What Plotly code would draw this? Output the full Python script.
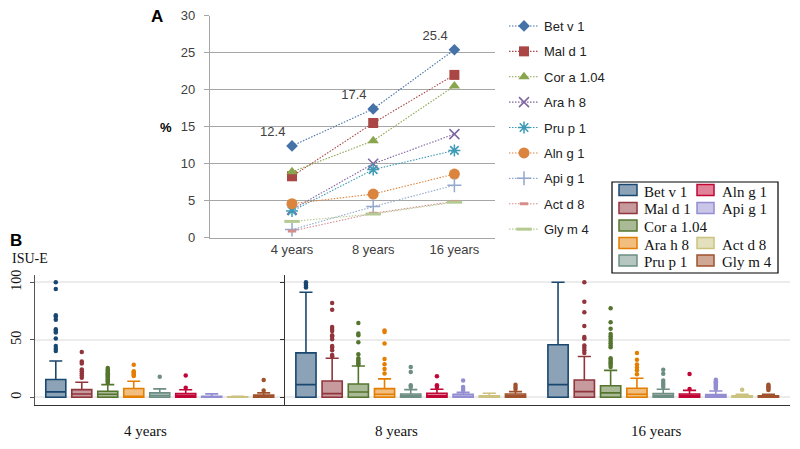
import plotly.graph_objects as go

W, H = 800, 449

# ---------------- data ----------------
years = ["4 years", "8 years", "16 years"]
allergens = ["Bet v 1", "Mal d 1", "Cor a 1.04", "Ara h 8", "Pru p 1",
             "Aln g 1", "Api g 1", "Act d 8", "Gly m 4"]

# Panel A: % sensitised
pct_bet = [12.4, 17.4, 25.4]
pct_mal = [8.3, 15.5, 22.0]
pct_cor = [8.9, 13.1, 20.5]
pct_ara = [3.8, 10.0, 14.0]
pct_pru = [3.6, 9.2, 11.8]
pct_aln = [4.6, 5.9, 8.6]
pct_api = [1.1, 4.2, 7.1]
pct_act = [0.9, 3.3, 4.9]
pct_gly = [2.2, 3.2, 4.8]
labelled_values = pct_bet

# Panel B: ISU-E box statistics (allergen order as above)
q1_4y = [0, 0, 0, 0, 0, 0, 0, 0, 0]
med_4y = [4.7, 2.9, 2.6, 0.9, 1.5, 1.2, 0.3, 0.1, 0.6]
q3_4y = [15.5, 6.7, 5.2, 7.6, 3.8, 3.2, 0.9, 0.4, 2.0]
whi_4y = [31.5, 13.1, 11.0, 14.0, 7.3, 6.5, 3.0, 0.8, 3.8]
out_4y = [
    [100, 94.2, 71.4, 70.0, 67.3, 59.2, 57.7, 56.3, 51, 44.6, 42.3, 40.2],
    [39.4, 31.2, 29.4, 24.2, 22.7, 20.7, 19.0, 16.9],
    [25.4, 24, 23, 22, 21, 20, 19, 18, 17, 16, 15, 14, 12.5],
    [28.3, 22.7, 21.5, 20.5, 19.5, 18.5],
    [17.8],
    [19.0, 8.2],
    [],
    [],
    [15.0, 6.0],
]

q1_8y = [0, 0, 0, 0, 0, 0, 0, 0, 0]
med_8y = [11.0, 3.2, 4.6, 2.6, 1.2, 1.4, 0.9, 0.5, 1.2]
q3_8y = [38.6, 14.2, 11.6, 7.5, 2.9, 3.5, 2.6, 1.4, 2.9]
whi_8y = [91.3, 34.0, 27.2, 16.0, 6.7, 7.0, 4.3, 3.5, 4.9]
out_8y = [
    [100, 98.5, 97, 95.5],
    [82, 76, 61, 59.4, 57.7, 54, 52.8, 50.4, 44.6, 43.2, 40.9, 36.8, 35.6],
    [64.6, 55.4, 54, 47.8, 37.4, 34, 32.5, 31, 29.5, 28.2],
    [58, 56.8, 46.7, 33.3, 28.7, 24.6, 20.6],
    [26.4, 22, 10.4, 9],
    [18.3, 10.4, 9],
    [14.5, 9, 7.5, 6],
    [],
    [11, 9, 7.3],
]

q1_16y = [0, 0, 0, 0, 0, 0, 0, 0, 0]
med_16y = [11.0, 4.9, 3.8, 2.6, 1.4, 1.2, 0.9, 0.5, 0.5]
q3_16y = [45.7, 15.0, 10.0, 7.8, 3.2, 2.9, 2.3, 1.2, 1.2]
whi_16y = [100, 35.5, 23.4, 16.5, 7.0, 6.0, 5.5, 2.6, 2.6]
out_16y = [
    [],
    [100, 83, 74, 62, 52.3, 50.9, 45, 43, 40.8, 38.4],
    [77.5, 65.3, 59.5, 55, 53, 51, 49, 47, 45, 43.6, 34, 32.5, 31, 29.5, 28, 26.3],
    [38.4, 32.7, 28.6, 26, 23.4, 20],
    [24, 20.5, 14.7, 12.7, 10.9, 9],
    [20.2, 7.2],
    [15.3, 14, 13, 12, 11, 10, 9, 8, 7.5],
    [6.6],
    [11, 9.8, 8.7, 7.5, 6.4],
]

# ---------------- styles ----------------
line_colors = ["#4572A7", "#AA4643", "#89A54E", "#7E64A0", "#3D9AB5",
               "#DB843D", "#92A8CD", "#D48E8C", "#B5CA92"]
line_symbols = ["diamond", "square", "triangle-up", "x-thin", "asterisk",
                "circle", "cross-thin", "line-ew", "line-ew"]
line_msize = [9, 10, 10, 10, 10, 11, 10, 6, 11]
pct_series = [pct_bet, pct_mal, pct_cor, pct_ara, pct_pru,
              pct_aln, pct_api, pct_act, pct_gly]

box_colors = ["#1a476f", "#90353b", "#55752f", "#e37e00", "#6e8e84",
              "#c10534", "#938dd2", "#cac27e", "#a0522d"]


def rgba(hexc, a):
    h = hexc.lstrip("#")
    return "rgba(%d,%d,%d,%.2f)" % (int(h[0:2], 16), int(h[2:4], 16), int(h[4:6], 16), a)


def fx(px):
    return px / W


def fy(py):
    return 1 - py / H


fig = go.Figure()

# ---------------- Panel A ----------------
SANS = "Liberation Sans, Arial, sans-serif"
SERIF = "Liberation Serif, Times New Roman, serif"
for i, name in enumerate(allergens):
    thin = line_symbols[i] in ("x-thin", "asterisk", "cross-thin", "line-ew")
    lw = 1.5
    if line_symbols[i] == "line-ew":
        lw = 3
    tr = dict(
        x=years, y=pct_series[i], name=name, xaxis="x", yaxis="y",
        mode="lines+markers", legend="legend", legendgroup=name,
        line=dict(color=line_colors[i], width=1.1, dash="1.5px,1.5px"),
        marker=dict(symbol=line_symbols[i], size=line_msize[i], color=line_colors[i],
                    line=dict(color=line_colors[i], width=lw if thin else 0)),
        cliponaxis=False,
    )
    if i == 0:
        tr["mode"] = "lines+markers+text"
        tr["text"] = ["%.1f" % v for v in labelled_values]
        tr["textposition"] = "top left"
        tr["textfont"] = dict(family=SANS, size=13, color="#404040")
    fig.add_trace(go.Scatter(**tr))

# ---------------- Panel B ----------------
stats = [(q1_4y, med_4y, q3_4y, whi_4y, out_4y),
         (q1_8y, med_8y, q3_8y, whi_8y, out_8y),
         (q1_16y, med_16y, q3_16y, whi_16y, out_16y)]
for k, (q1s, meds, q3s, whis, outs) in enumerate(stats):
    xa, ya = "x%d" % (k + 2), "y%d" % (k + 2)
    for i, name in enumerate(allergens):
        c = box_colors[i]
        fig.add_trace(go.Box(
            x=[name], q1=[q1s[i]], median=[meds[i]], q3=[q3s[i]],
            lowerfence=[q1s[i]], upperfence=[whis[i]],
            width=0.77, whiskerwidth=0.65, boxpoints=False,
            fillcolor=rgba(c, 0.5), line=dict(color=c, width=1.6),
            xaxis=xa, yaxis=ya, showlegend=False, hoverinfo="skip", name=name,
        ))
    for i, name in enumerate(allergens):
        if outs[i]:
            fig.add_trace(go.Scatter(
                x=[name] * len(outs[i]), y=outs[i], mode="markers",
                marker=dict(color=box_colors[i], size=4.5),
                xaxis=xa, yaxis=ya, showlegend=False, hoverinfo="skip",
                cliponaxis=False,
            ))

# ---------------- layout ----------------
grid_a = "#a6a6a6"
layout = dict(
    width=W, height=H, margin=dict(l=0, r=0, t=0, b=0, autoexpand=False),
    paper_bgcolor="white", plot_bgcolor="white", showlegend=True,
    xaxis=dict(domain=[fx(210), fx(495)], type="category", range=[-1.01, 2.5],
               showline=True, linecolor=grid_a, linewidth=1.3, ticks="",
               tickfont=dict(family=SANS, size=13, color="#404040"),
               showgrid=False, fixedrange=True, automargin=False),
    yaxis=dict(domain=[fy(237.7), fy(15.7)], range=[0, 30], tickvals=[0, 5, 10, 15, 20, 25, 30],
               showgrid=True, gridcolor=grid_a, gridwidth=1.3, zeroline=False,
               showline=True, linecolor=grid_a, linewidth=1.3,
               ticks="outside", ticklen=5, tickcolor=grid_a, tickwidth=1.3,
               ticklabelstandoff=6,
               tickfont=dict(family=SANS, size=13, color="#404040"), fixedrange=True,
               automargin=False),
    legend=dict(x=fx(504), xanchor="left", y=fy(11), yanchor="top",
                font=dict(family=SANS, size=13, color="#222222"),
                tracegroupgap=5.5, bgcolor="rgba(0,0,0,0)", itemwidth=30),
)

panel_x = [(35, 285), (285, 537), (537, 790)]
for k in range(3):
    xn = "xaxis%d" % (k + 2)
    yn = "yaxis%d" % (k + 2)
    layout[xn] = dict(domain=[fx(panel_x[k][0]), fx(panel_x[k][1])], anchor="y%d" % (k + 2),
                      type="category", categoryorder="array", categoryarray=allergens,
                      range=[-0.8, 8.82], showline=True, linecolor="#333333", linewidth=1.3,
                      ticks="", showticklabels=False, showgrid=False, fixedrange=True,
                      automargin=False)
    ya = dict(domain=[fy(405), fy(275)], anchor="x%d" % (k + 2), range=[-6.7, 106.3],
              tickvals=[0, 50, 100], showgrid=True, gridcolor="#ececec", gridwidth=1.5,
              zeroline=False, fixedrange=True, automargin=False)
    if k == 0:
        ya.update(showline=True, linecolor="#555555", linewidth=1.3, ticks="outside",
                  ticklen=4, tickcolor="#555555", tickangle=-90, ticklabelstandoff=3,
                  tickfont=dict(family=SERIF, size=14, color="#111111"))
    elif k == 1:
        ya.update(showline=True, linecolor="#333333", linewidth=1.3, ticks="outside",
                  ticklen=4, tickcolor="#333333", showticklabels=False)
    else:
        ya.update(showline=False, ticks="", showticklabels=False)
    layout[yn] = ya

fig.update_layout(**layout)

# ---------------- annotations ----------------
ann = [
    dict(text="<b>A</b>", x=fx(157), y=fy(17), font=dict(family=SANS, size=17, color="black")),
    dict(text="<b>%</b>", x=fx(166), y=fy(127), font=dict(family=SANS, size=13, color="black")),
    dict(text="<b>B</b>", x=fx(16), y=fy(240), font=dict(family=SANS, size=17, color="black")),
    dict(text="ISU-E", x=fx(30), y=fy(258), font=dict(family=SERIF, size=14, color="#111111")),
]
for yr, cx in zip(years, [145, 396, 656]):
    ann.append(dict(text=yr, x=fx(cx), y=fy(431), font=dict(family=SERIF, size=15, color="#111111")))

# manual legend for panel B (2 columns, Stata-like)
legend_cols = [["Bet v 1", "Mal d 1", "Cor a 1.04", "Ara h 8", "Pru p 1"],
               ["Aln g 1", "Api g 1", None, "Act d 8", "Gly m 4"]]
row_y = [190, 208, 225.5, 243, 260.5]
col_sq = [(619, 637), (697, 714)]
col_tx = [642, 720]
shapes = [dict(type="rect", xref="paper", yref="paper", x0=fx(612), x1=fx(778),
               y0=fy(273), y1=fy(182), line=dict(color="black", width=1.2),
               fillcolor="white", layer="above")]
for c, col in enumerate(legend_cols):
    for r, name in enumerate(col):
        if name is None:
            continue
        colr = box_colors[allergens.index(name)]
        shapes.append(dict(type="rect", xref="paper", yref="paper",
                           x0=fx(col_sq[c][0]), x1=fx(col_sq[c][1]),
                           y0=fy(row_y[r] + 5.5), y1=fy(row_y[r] - 5.5),
                           line=dict(color=colr, width=1.5), fillcolor=rgba(colr, 0.5),
                           layer="above"))
        ann.append(dict(text=name, x=fx(col_tx[c]), y=fy(row_y[r] + 1.5), xanchor="left",
                        font=dict(family=SERIF, size=15, color="#111111")))

for a in ann:
    a.setdefault("xref", "paper")
    a.setdefault("yref", "paper")
    a.setdefault("showarrow", False)
    a.setdefault("xanchor", "center")
    a.setdefault("yanchor", "middle")
fig.update_layout(annotations=ann, shapes=shapes)

# remove the browser's default page margin so the figure sits at the window origin
fig.write_html("out.html", config={"displayModeBar": False},
               post_script="document.body.style.margin='0';document.body.style.padding='0';")
